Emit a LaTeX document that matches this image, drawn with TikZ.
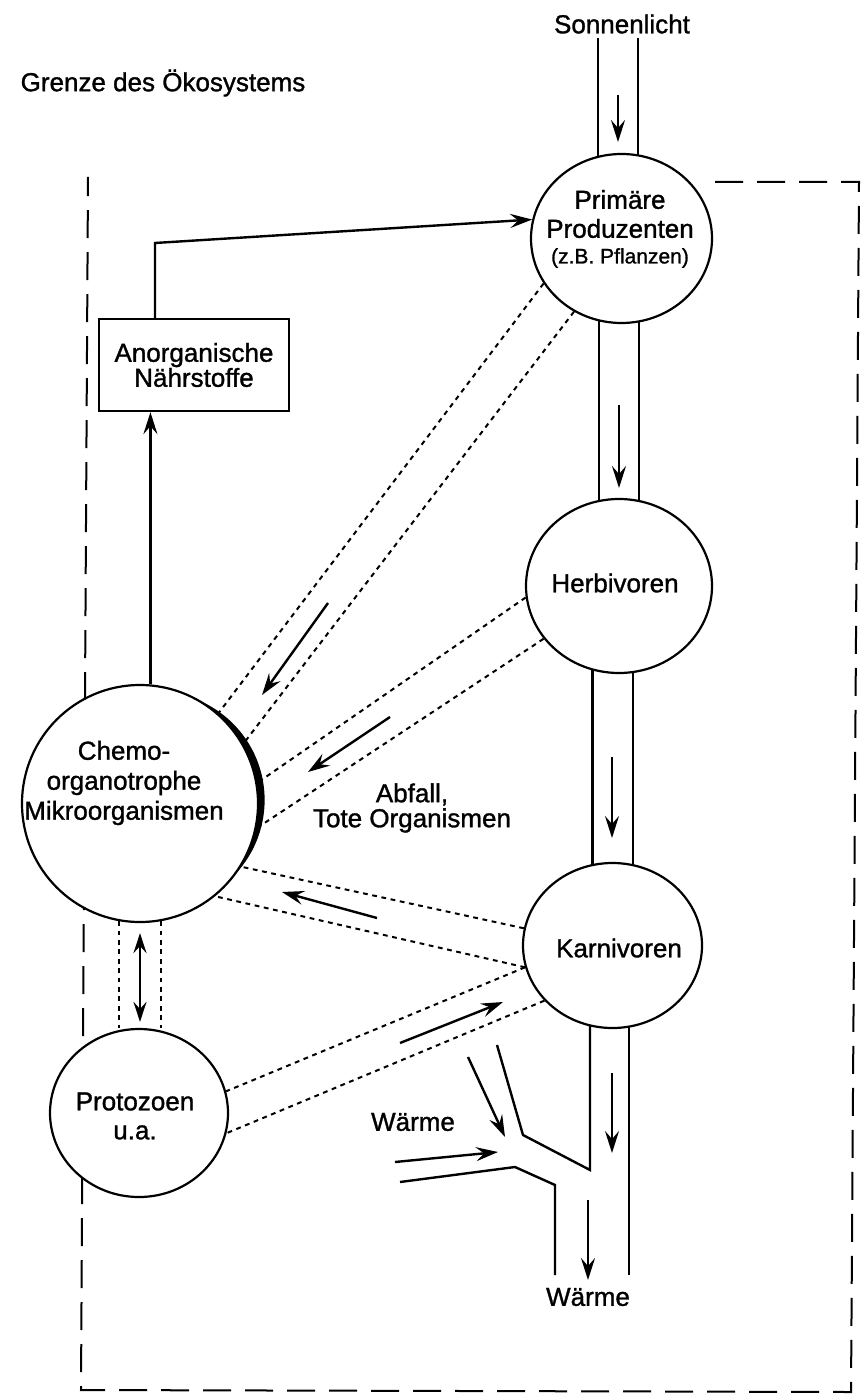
\documentclass[tikz,border=0pt]{standalone}
\usepackage{fontspec}
\setmainfont{Liberation Sans}[FakeBold=1.2]
\usetikzlibrary{arrows.meta,shapes.geometric}
\pgfdeclarelayer{background}
\pgfsetlayers{background,main}
\begin{document}
\begin{tikzpicture}[x=0.5pt,y=-0.5pt,
  every node/.style={inner sep=0pt},
  txt/.style={font=\fontsize{13}{15}\selectfont, align=center},
  org/.style={ellipse, draw, line width=1.1pt, fill=white},
  flow/.style={dash pattern=on 2.4pt off 2.3pt, line width=1pt},
  arr/.style={line width=1.2pt, -{Stealth[length=11pt,width=7pt,inset=4pt]}},
  dblarr/.style={line width=1.2pt, {Stealth[length=10pt,width=6.5pt,inset=3.5pt]}-{Stealth[length=10pt,width=6.5pt,inset=3.5pt]}},
  wall/.style={line width=1.2pt},
  chan/.style={double, double distance=19pt, line width=1.2pt},
  boundary/.style={line width=1pt, dash pattern=on 14pt off 7pt}]
\useasboundingbox (0,0) rectangle (861,1395);

% organism nodes
\node[org, minimum width=90.5pt, minimum height=84.5pt] (pp) at (621.5,238.5) {};
\node[org, minimum width=93pt, minimum height=87pt] (hb) at (619,586) {};
\node[org, minimum width=89.5pt, minimum height=82.5pt] (kv) at (612.5,945.5) {};
\node[org, minimum width=118pt, minimum height=118.5pt] (ch) at (140,803.5) {};
\node[org, minimum width=89pt, minimum height=84pt] (pr) at (139,1113) {};
\node[draw, line width=1.2pt, minimum width=95pt, minimum height=46pt, txt,
      font=\fontsize{13}{12.5}\selectfont] (nb) at (194,365) {Anorganische\\Nährstoffe};

% texts
\node[txt] (title) at (163,83) {Grenze des Ökosystems};
\node[txt] (sunT) at (622,24) {Sonnenlicht};
\node[txt, font=\fontsize{13}{14.5}\selectfont] (ppT) at (620,214) {Primäre\\Produzenten};
\node[font=\fontsize{10.5}{12}\selectfont] (ppT2) at (620,258) {(z.B. Pflanzen)};
\node[txt] (hbT) at (615,583) {Herbivoren};
\node[txt] (chT) at (124,783) {Chemo-\\organotrophe\\Mikroorganismen};
\node[txt] (kvT) at (619,948) {Karnivoren};
\node[txt, font=\fontsize{13}{14.5}\selectfont] (prT) at (135,1116) {Protozoen\\u.a.};
\node[txt, font=\fontsize{13}{12.5}\selectfont] (abf) at (412,808) {Abfall,\\Tote Organismen};
\node[txt] (w1) at (413,1122) {Wärme};
\node[txt] (w2) at (588,1297) {Wärme};

% nutrient cycle
\coordinate (bend) at (155,243);
\draw[arr] (ch.85) -- (ch.85 |- nb.south);
\draw[arr] (bend |- nb.north) -- (bend) -- (pp.168);

% dotted flows of waste / dead organisms
\draw[flow] (pp.210.6) -- (ch.49);
\draw[flow] (pp.237) -- (ch.30.5);
\draw[flow] (hb.187.4) -- (ch.10.3);
\draw[flow] (hb.215.4) -- (ch.348.7);
\draw[flow] (kv.169.1) -- (ch.328.8);
\draw[flow] (kv.194.1) -- (ch.309.2);
\draw[flow] (kv.194.1) -- (pr.14.9);
\draw[flow] (kv.219.2) -- (pr.347.3);
\draw[flow] (ch.260) -- (ch.260 |- pr.north);
\draw[flow] (ch.280) -- (ch.280 |- pr.north);
\draw[dblarr, shorten <=5pt, shorten >=3pt] (ch.south) -- (ch.south |- pr.north);

% direction arrows
\draw[arr] (328,603) -- (262,695);
\draw[arr] (390,717) -- (308,772);
\draw[arr] (377,918) -- (282,892);
\draw[arr] (400,1043) -- (503,1002);
\draw[arr] (618,95) -- (618,142);
\draw[arr] (619,405) -- (619,488);
\draw[arr] (612,757) -- (612,838);
\draw[arr] (612,1073) -- (612,1153);
\draw[arr] (588,1200) -- (588,1280);
\draw[arr] (468,1057) -- (505,1137);
\draw[arr] (395,1162) -- (498,1152);

\begin{pgfonlayer}{background}
  \draw[boundary] (715,182) -- (859,182) -- (851,1392) -- (81,1390) -- (88,177);
  % thick rim (crescent) of the chemo circle
  \fill ([shift={(16.43,-3.49)}]ch.center) circle[radius=108.2];
  \coordinate (sun) at (618,38);
  \draw[chan] (sun) -- (sun |- pp.center);
  \draw[chan] (hb.center |- pp.center) -- (hb.center);
  \draw[chan] (kv.center |- hb.center) -- (kv.center);
  \draw[wall] (629,1000) -- (629,1275);
  \draw[wall] (590,1000) -- (590,1170) -- (523,1135) -- (497,1045);
  \draw[wall] (400,1182) -- (515,1167) -- (555,1185) -- (555,1275);
\end{pgfonlayer}
\end{tikzpicture}
\end{document}
